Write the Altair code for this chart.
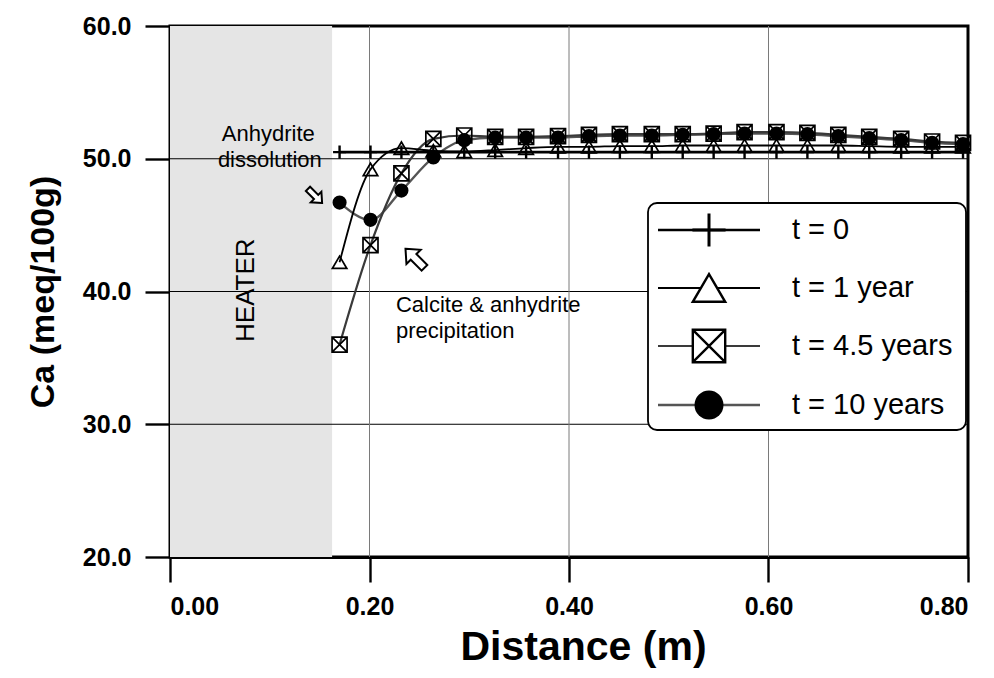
import altair as alt
import pandas as pd

# ---------------- data ----------------
distance = [0.170, 0.201, 0.232, 0.264, 0.295, 0.326, 0.357, 0.389, 0.420, 0.451, 0.483,
            0.514, 0.545, 0.576, 0.608, 0.639, 0.670, 0.701, 0.733, 0.764, 0.795]
ca_t0 = [50.5, 50.5, 50.5, 50.5, 50.5, 50.5, 50.5, 50.5, 50.5, 50.5, 50.5,
         50.5, 50.5, 50.5, 50.5, 50.5, 50.5, 50.5, 50.5, 50.5, 50.5]
ca_t1 = [42.2, 49.2, 50.8, 50.6, 50.55, 50.65, 50.8, 50.9, 50.9, 50.95, 50.95,
         51.0, 51.0, 51.0, 51.0, 51.0, 51.0, 50.95, 50.9, 50.9, 50.9]
ca_t45 = [36.0, 43.5, 48.9, 51.5, 51.75, 51.65, 51.65, 51.7, 51.8, 51.85, 51.85,
          51.85, 51.9, 52.0, 52.0, 51.95, 51.8, 51.65, 51.5, 51.3, 51.2]
ca_t10 = [46.7, 45.4, 47.6, 50.1, 51.4, 51.6, 51.6, 51.6, 51.7, 51.75, 51.75,
          51.8, 51.85, 51.9, 51.9, 51.85, 51.7, 51.55, 51.4, 51.2, 51.1]
series_labels = ["t = 0", "t = 1 year", "t = 4.5 years", "t = 10 years"]
series_values = [ca_t0, ca_t1, ca_t45, ca_t10]

x_ticks = [0.0, 0.2, 0.4, 0.6, 0.8]
y_ticks = [20, 30, 40, 50, 60]
x_grid = [0.2, 0.4, 0.6]
y_grid = [30, 40, 50]
heater_extent = [0.0, 0.1625]

FONT = "Liberation Sans"

xs = alt.Scale(domain=[0, 0.8], nice=False, zero=False)
ys = alt.Scale(domain=[20, 60], nice=False, zero=False)

PLUS = "M-1,0H1M0,-1V1"
TRI = "M0,-0.85L1,0.85L-1,0.85Z"
SQX = "M-1,-1H1V1H-1ZM-1,-1L1,1M-1,1L1,-1"
ARROW = "M0,-1L0.75,-0.15L0.3,-0.15L0.3,1L-0.3,1L-0.3,-0.15L-0.75,-0.15Z"

styles = [
    dict(color="black", width=2.6, shape=PLUS, size=170, pw=2.4, lsize=1100, lfill=None),
    dict(color="black", width=1.8, shape=TRI, size=210, pw=1.7, lsize=1050, lfill="white"),
    dict(color="#3a3a3a", width=2.2, shape=SQX, size=225, pw=1.7, lsize=1050, lfill="white"),
    dict(color="#555555", width=2.4, shape="circle", size=200, pw=1, lsize=840, lfill="black"),
]

# ---------------- base layers ----------------
heater = alt.Chart(pd.DataFrame({"x0": [heater_extent[0]], "x1": [heater_extent[1]],
                                 "y0": [20], "y1": [60]})).mark_rect(color="#e5e5e5").encode(
    x=alt.X("x0:Q", scale=xs, title="Distance (m)",
            axis=alt.Axis(values=x_ticks, format=".2f")),
    x2="x1:Q",
    y=alt.Y("y0:Q", scale=ys, title="Ca (meq/100g)",
            axis=alt.Axis(values=y_ticks, format=".1f")),
    y2="y1:Q",
)

hgrid = alt.Chart(pd.DataFrame({"y": y_grid})).mark_rule(color="black", strokeWidth=1).encode(
    y=alt.Y("y:Q", scale=ys))
vgrid = alt.Chart(pd.DataFrame({"x": x_grid})).mark_rule(color="#7a7a7a", strokeWidth=1).encode(
    x=alt.X("x:Q", scale=xs))

layers = [heater, hgrid, vgrid]

line_layers = []
point_layers = []
for lab, vals, st in zip(series_labels, series_values, styles):
    df = pd.DataFrame({"distance": distance, "ca": vals, "series": lab})
    base = alt.Chart(df)
    line_layers.append(base.mark_line(interpolate="monotone", color=st["color"],
                                      strokeWidth=st["width"]).encode(
        x=alt.X("distance:Q", scale=xs), y=alt.Y("ca:Q", scale=ys)))
    if st["shape"] == "circle":
        pm = base.mark_point(shape="circle", filled=True, color="black", size=st["size"], opacity=1)
    else:
        pm = base.mark_point(shape=st["shape"], filled=False, color="black", size=st["size"],
                             strokeWidth=st["pw"], opacity=1)
    point_layers.append(pm.encode(x=alt.X("distance:Q", scale=xs), y=alt.Y("ca:Q", scale=ys)))

layers += line_layers[::-1]
layers += point_layers[::-1]

# ---------------- annotations ----------------
ann = pd.DataFrame({
    "x": [0.052, 0.048, 0.2265, 0.2265],
    "y": [51.9, 49.9, 39.0, 37.0],
    "t": ["Anhydrite", "dissolution", "Calcite & anhydrite", "precipitation"],
})
layers.append(alt.Chart(ann).mark_text(align="left", baseline="middle", font=FONT,
                                       fontSize=22, color="black").encode(
    x=alt.X("x:Q", scale=xs), y=alt.Y("y:Q", scale=ys), text="t:N"))

layers.append(alt.Chart(pd.DataFrame({"x": [0.0762], "y": [40.1], "t": ["HEATER"]})).mark_text(
    align="center", baseline="middle", angle=270, font=FONT, fontSize=26, color="black").encode(
    x=alt.X("x:Q", scale=xs), y=alt.Y("y:Q", scale=ys), text="t:N"))

arrows = pd.DataFrame({"x": [0.1454, 0.2456], "y": [47.2, 42.5], "a": [135, 315], "s": [400, 720]})
layers.append(alt.Chart(arrows).mark_point(shape=ARROW, filled=True, fill="white", stroke="black",
                                           strokeWidth=2, opacity=1).encode(
    x=alt.X("x:Q", scale=xs), y=alt.Y("y:Q", scale=ys),
    angle=alt.Angle("a:Q", scale=None), size=alt.Size("s:Q", scale=None)))

# ---------------- legend ----------------
layers.append(alt.Chart(pd.DataFrame({"k": [0]})).mark_rect(
    fill="white", stroke="black", strokeWidth=1.8, cornerRadius=9).encode(
    x=alt.value(478), x2=alt.value(796), y=alt.value(177), y2=alt.value(404)))

leg_rows = [204, 262, 320, 379]
for lab, st, yy in zip(series_labels, styles, leg_rows):
    d = alt.Chart(pd.DataFrame({"label": [lab]}))
    layers.append(d.mark_rule(color=st["color"], strokeWidth=st["width"]).encode(
        x=alt.value(488), x2=alt.value(590), y=alt.value(yy)))
    if st["shape"] == "circle":
        lp = d.mark_point(shape="circle", filled=True, color="black", size=st["lsize"], opacity=1)
    elif st["lfill"] is None:
        lp = d.mark_point(shape=st["shape"], filled=False, color="black", size=st["lsize"],
                          strokeWidth=3, opacity=1)
    else:
        lp = d.mark_point(shape=st["shape"], filled=True, fill="white", stroke="black",
                          size=st["lsize"], strokeWidth=2.4, opacity=1)
    layers.append(lp.encode(x=alt.value(539), y=alt.value(yy)))
    layers.append(d.mark_text(align="left", baseline="middle", font=FONT, fontSize=29,
                              color="black").encode(
        x=alt.value(622), y=alt.value(yy), text="label:N"))

chart = alt.layer(*layers).properties(
    width=798, height=531,
    autosize=alt.AutoSizeParams(type="none"),
    padding={"left": 170, "top": 26, "right": 26, "bottom": 121},
).configure_view(
    stroke="black", strokeWidth=3
).configure_axis(
    grid=False, domainColor="black", domainWidth=3, tickColor="black", tickWidth=2.4,
    tickSize=25, labelFont=FONT, labelFontWeight="bold", labelFontSize=25, labelColor="black",
    titleFont=FONT, titleFontWeight="bold", titleFontSize=41, titleColor="black",
).configure_axisX(
    labelPadding=12, titlePadding=8, titleX=413, titleAlign="center",
).configure_axisY(
    labelPadding=14, titlePadding=22, titleFontSize=34,
)

chart.save("out.html", embed_options={"renderer": "svg", "actions": False})
